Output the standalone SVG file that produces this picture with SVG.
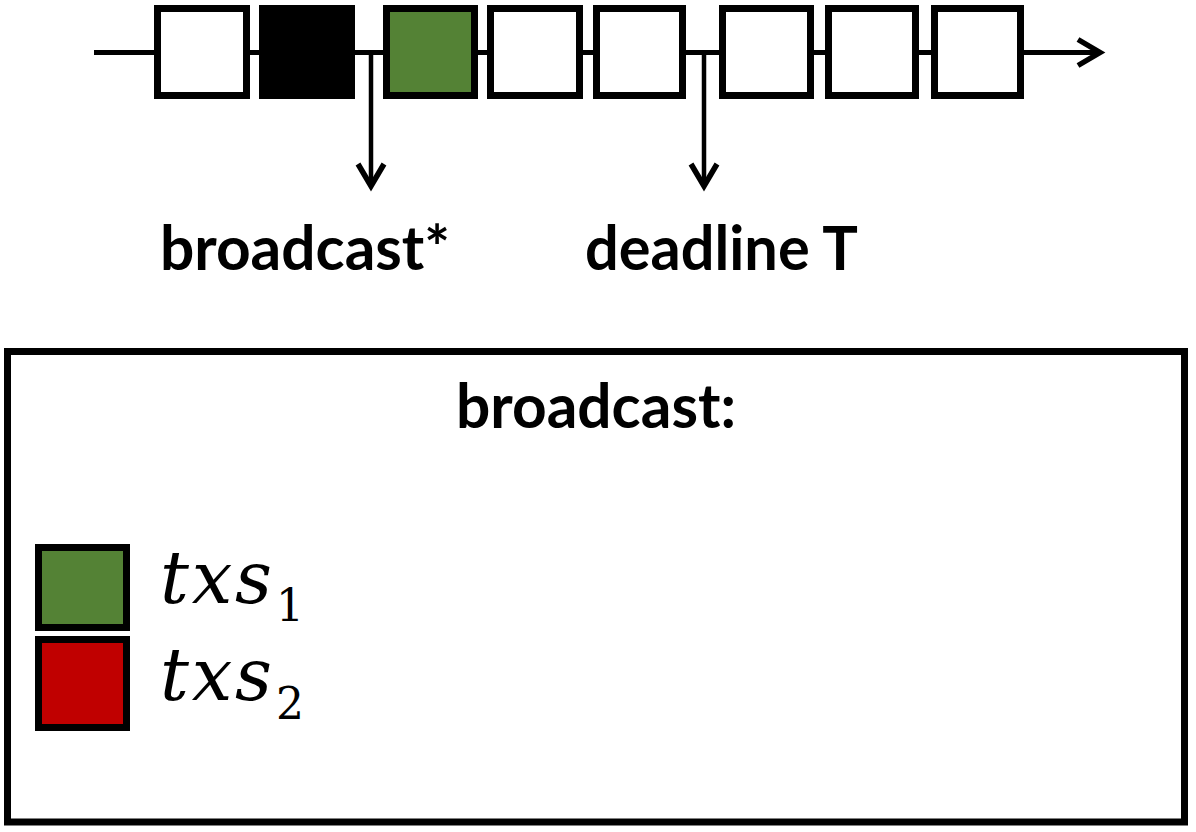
<svg xmlns="http://www.w3.org/2000/svg" width="1196" height="832" viewBox="0 0 1196 832">
  <style>
    .slot { stroke: #000; stroke-width: 7; }
    .line { stroke: #000; fill: none; }
    .lbl { font-family: Lato, "Liberation Sans", sans-serif; font-weight: bold; font-size: 62px; fill: #000; }
    .math { font-family: "DejaVu Serif", "Liberation Serif", serif; font-style: italic; font-size: 72px; fill: #000; }
    .sub { font-family: "DejaVu Serif", "Liberation Serif", serif; font-size: 44px; fill: #000; }
  </style>
  <defs>
    <marker id="chev" markerUnits="userSpaceOnUse" orient="auto" markerWidth="40" markerHeight="40" refX="0" refY="0" viewBox="-30 -20 40 40" overflow="visible">
      <path d="M -22,-13 L 0,0 L -22,13" fill="none" stroke="#000" stroke-width="5.5" stroke-linejoin="miter" stroke-linecap="butt"/>
    </marker>
  </defs>
  <rect width="1196" height="832" fill="#fff"/>

  <g id="connectors">
    <line class="line" x1="94" y1="52.5" x2="1100" y2="52.5" stroke-width="5" marker-end="url(#chev)"/>
    <line class="line" x1="371" y1="52" x2="371" y2="186" stroke-width="4.5" marker-end="url(#chev)"/>
    <line class="line" x1="704" y1="52" x2="704" y2="186" stroke-width="4.5" marker-end="url(#chev)"/>
  </g>

  <g id="slot1"><rect class="slot" x="157.5" y="8.5" width="89" height="87" fill="#fff"/></g>
  <g id="slot2"><rect class="slot" x="262.5" y="8.5" width="89" height="87" fill="#000"/></g>
  <g id="slot3"><rect class="slot" x="386.5" y="8.5" width="88" height="87" fill="#548235"/></g>
  <g id="slot4"><rect class="slot" x="490.5" y="8.5" width="89" height="87" fill="#fff"/></g>
  <g id="slot5"><rect class="slot" x="596.5" y="8.5" width="86" height="87" fill="#fff"/></g>
  <g id="slot6"><rect class="slot" x="722.5" y="8.5" width="88" height="87" fill="#fff"/></g>
  <g id="slot7"><rect class="slot" x="828.5" y="8.5" width="87" height="87" fill="#fff"/></g>
  <g id="slot8"><rect class="slot" x="934.5" y="8.5" width="86" height="87" fill="#fff"/></g>

  <g id="label-broadcast-star"><text class="lbl" x="160" y="270" textLength="290" lengthAdjust="spacingAndGlyphs">broadcast*</text></g>
  <g id="label-deadline"><text class="lbl" x="585" y="270" textLength="273" lengthAdjust="spacingAndGlyphs">deadline T</text></g>

  <g id="legend">
    <rect x="7.5" y="351.5" width="1177" height="470.5" fill="none" stroke="#000" stroke-width="7"/>
    <text class="lbl" x="456" y="428" textLength="280" lengthAdjust="spacingAndGlyphs">broadcast:</text>
    <g id="legend-txs1">
      <rect class="slot" x="38.5" y="547.5" width="88" height="80" fill="#548235"/>
      <text class="math" x="160" y="603" textLength="112" lengthAdjust="spacing">txs</text>
      <text class="sub" x="276" y="621">1</text>
    </g>
    <g id="legend-txs2">
      <rect class="slot" x="38.5" y="639.5" width="88" height="88" fill="#c00000"/>
      <text class="math" x="160" y="700" textLength="112" lengthAdjust="spacing">txs</text>
      <text class="sub" x="276" y="719">2</text>
    </g>
  </g>
</svg>
